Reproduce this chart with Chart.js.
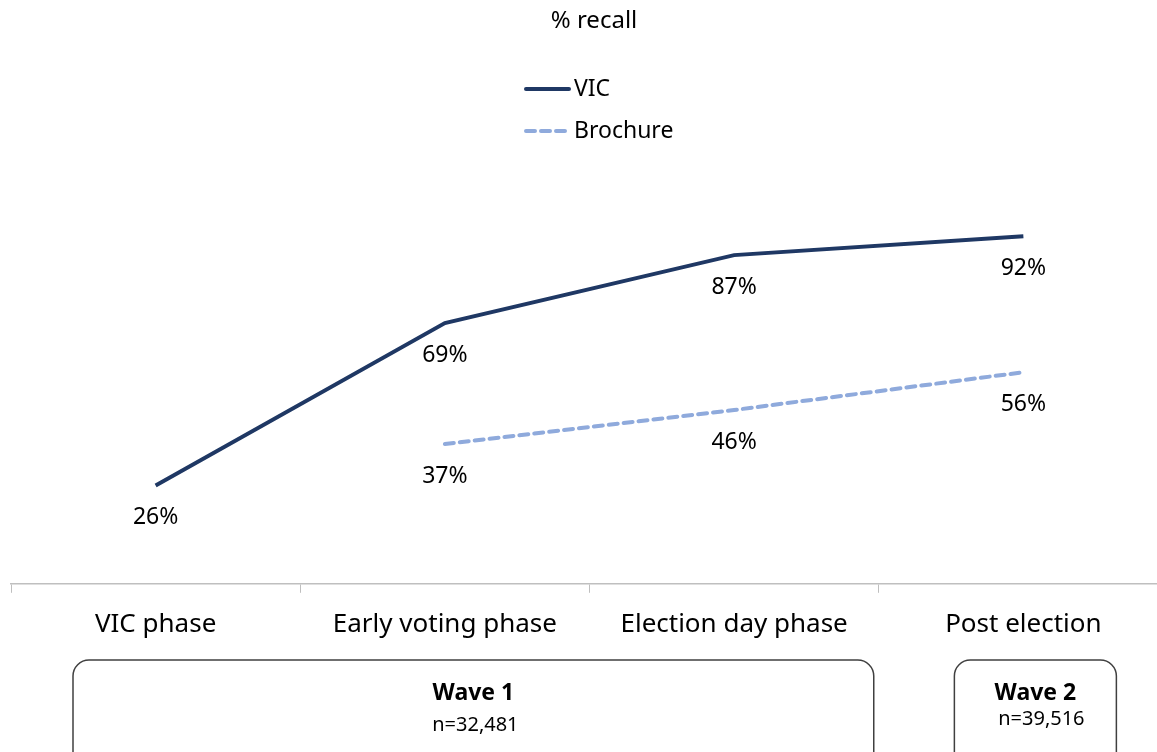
<!DOCTYPE html>
<html>
<head>
<meta charset="utf-8">
<script src="https://cdn.jsdelivr.net/npm/chart.js@4"></script>
<style>
  html, body { margin: 0; padding: 0; background: #ffffff; overflow: hidden; }
  #wrap { width: 1168px; height: 752px; }
</style>
</head>
<body>
<div id="wrap"><canvas id="chart" width="1168" height="752"></canvas></div>
<script>
// Chart data
const phases = ['VIC phase', 'Early voting phase', 'Election day phase', 'Post election'];
const vicRecall = [26, 69, 87, 92];
const brochureRecall = [null, 37, 46, 56];
const waves = [
    { title: 'Wave 1', sample: 'n=32,481' },
    { title: 'Wave 2', sample: 'n=39,516' }
];

const FONT = '"Noto Sans", "Open Sans", sans-serif';
const VIC_COLOR = '#1f3864';
const BROCHURE_COLOR = '#8faadc';

// Title + vertical legend, drawn above the plot
const headerPlugin = {
    id: 'header',
    afterDraw(chart) {
        const ctx = chart.ctx;
        ctx.save();
        ctx.fillStyle = '#000000';
        ctx.font = '24px ' + FONT;
        ctx.textAlign = 'center';
        ctx.textBaseline = 'middle';
        ctx.fillText('% recall', 594, 21);

        const items = chart.data.datasets;
        items.forEach((ds, i) => {
            const y = 89 + i * 42;
            ctx.beginPath();
            ctx.strokeStyle = ds.borderColor;
            ctx.lineWidth = ds.borderWidth;
            ctx.lineCap = 'round';
            ctx.setLineDash(ds.borderDash || []);
            ctx.moveTo(526, y);
            ctx.lineTo(569, y);
            ctx.stroke();
            ctx.setLineDash([]);
            ctx.fillStyle = '#000000';
            ctx.font = '23px ' + FONT;
            ctx.textAlign = 'left';
            ctx.fillText(ds.label, 574, y);
        });
        ctx.restore();
    }
};

// Value labels under each point
const valueLabelPlugin = {
    id: 'valueLabels',
    afterDatasetsDraw(chart) {
        const ctx = chart.ctx;
        ctx.save();
        ctx.fillStyle = '#000000';
        ctx.font = '23px ' + FONT;
        ctx.textAlign = 'center';
        ctx.textBaseline = 'middle';
        chart.data.datasets.forEach((ds, i) => {
            const meta = chart.getDatasetMeta(i);
            meta.data.forEach((pt, j) => {
                const v = ds.data[j];
                if (v === null || v === undefined) return;
                ctx.fillText(v + '%', pt.x, pt.y + 32);
            });
        });
        ctx.restore();
    }
};

// Wave boxes under the category labels
const waveBoxPlugin = {
    id: 'waveBoxes',
    afterDraw(chart) {
        const ctx = chart.ctx;
        const x = chart.scales.x;
        const step = x.getPixelForValue(1) - x.getPixelForValue(0);
        const boxes = [
            { left: x.getPixelForValue(0) - step / 2 + 62, right: x.getPixelForValue(2) + step / 2 - 5, top: 660, wave: waves[0], titleY: 693, sampleY: 725, dx: 2 },
            { left: x.getPixelForValue(3) - 69, right: x.getPixelForValue(3) + 93, top: 660, wave: waves[1], titleY: 693, sampleY: 719, dx: 6 }
        ];
        ctx.save();
        boxes.forEach(b => {
            const r = 16;
            const bottom = 790;
            ctx.beginPath();
            ctx.moveTo(b.left + r, b.top);
            ctx.lineTo(b.right - r, b.top);
            ctx.arcTo(b.right, b.top, b.right, b.top + r, r);
            ctx.lineTo(b.right, bottom);
            ctx.lineTo(b.left, bottom);
            ctx.lineTo(b.left, b.top + r);
            ctx.arcTo(b.left, b.top, b.left + r, b.top, r);
            ctx.closePath();
            ctx.strokeStyle = '#404040';
            ctx.lineWidth = 1.5;
            ctx.stroke();

            const cx = (b.left + b.right) / 2;
            ctx.fillStyle = '#000000';
            ctx.textAlign = 'center';
            ctx.textBaseline = 'middle';
            ctx.font = 'bold 23px ' + FONT;
            ctx.fillText(b.wave.title, cx, b.titleY);
            ctx.font = '20px ' + FONT;
            ctx.fillText(b.wave.sample, cx + b.dx, b.sampleY);
        });
        ctx.restore();
    }
};

new Chart(document.getElementById('chart'), {
    type: 'line',
    data: {
        labels: phases,
        datasets: [
            {
                label: 'VIC',
                data: vicRecall,
                borderColor: VIC_COLOR,
                borderWidth: 4,
                pointRadius: 0,
                tension: 0,
                fill: false
            },
            {
                label: 'Brochure',
                data: brochureRecall,
                borderColor: BROCHURE_COLOR,
                borderWidth: 4,
                borderDash: [9, 6],
                borderCapStyle: 'round',
                pointRadius: 0,
                tension: 0,
                fill: false
            }
        ]
    },
    options: {
        responsive: false,
        animation: false,
        devicePixelRatio: 1,
        layout: {
            padding: { top: 206, left: 11, right: 0, bottom: 96 }
        },
        plugins: {
            legend: { display: false },
            title: { display: false },
            tooltip: { enabled: false }
        },
        scales: {
            x: {
                offset: true,
                grid: {
                    offset: true,
                    drawOnChartArea: false,
                    drawTicks: true,
                    tickLength: 9,
                    color: '#bfbfbf'
                },
                border: { display: true, color: '#bfbfbf', width: 1.5 },
                ticks: {
                    color: '#000000',
                    padding: 16,
                    maxRotation: 0,
                    font: { family: FONT, size: 26 }
                }
            },
            y: {
                display: false,
                min: 0,
                max: 100
            }
        }
    },
    plugins: [headerPlugin, valueLabelPlugin, waveBoxPlugin]
});
</script>
</body>
</html>
